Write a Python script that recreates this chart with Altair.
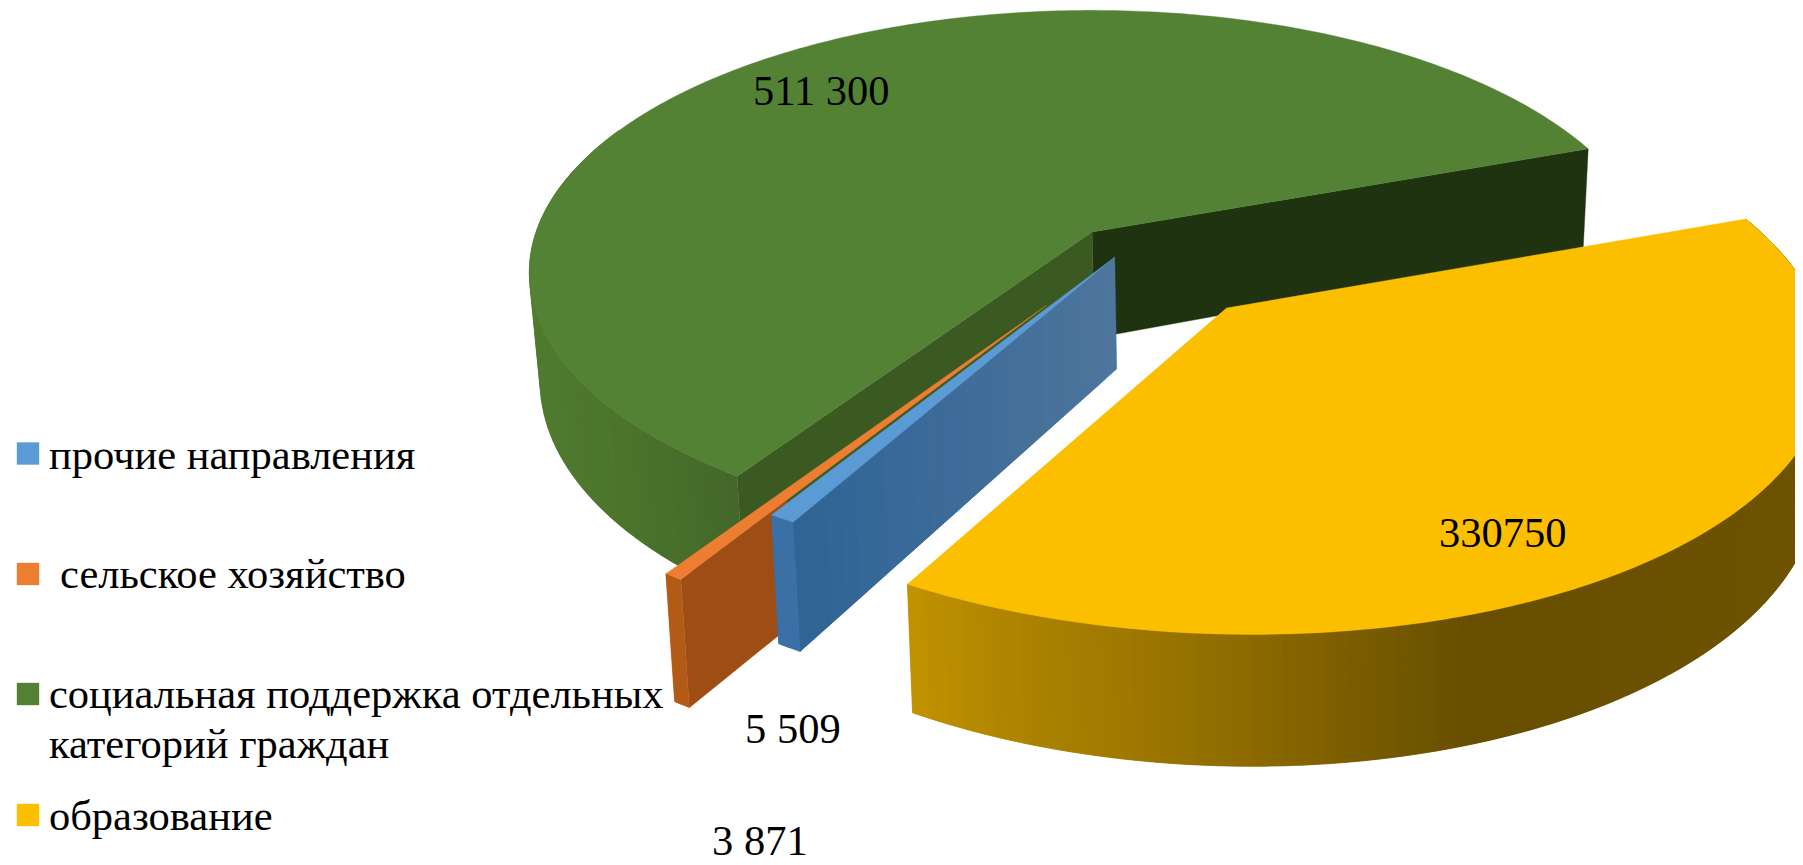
import math
import altair as alt

# ---- values
categories = ["образование", "прочие направления", "сельское хозяйство",
              "социальная поддержка отдельных категорий граждан"]
values = [330750, 5509, 3871, 511300]
value_texts = ["330750", "5 509", "3 871", "511 300"]

legend_order = ["прочие направления", " сельское хозяйство",
                "социальная поддержка отдельных", "образование"]
legend_second_line = "категорий граждан"

top_colors = ["#fbbf00", "#5b9bd5", "#ed7d31", "#548235"]

# ---- styling / projection parameters (page coordinates minus the 8px margin)
OFF = 8
CX, CY = 1091, 232
R, RQ, K = 556, 256, 0.155
DEPTH = 106
START = -20.0
VANISH_X, BOTTOM_SCALE = 1250, 0.985
# displacement (x, y) and stretch (x, y) of each slice in the disc plane
explode = [(0.233, 0.284, 1.015, 0.98), (0.042, 0.097, 1, 1), (-0.077, 0.275, 1, 1), (0.002, 0.0, 1, 1)]
yellow_stops = [(906, "#c29200"), (998, "#b08600"), (1233, "#8f6c00"), (1469, "#684f00"),
                (1645, "#6a5000"), (1803, "#6e5400")]
green_stops = [(528, "#507b2f"), (620, "#4c742c"), (732, "#44682a")]


def hex2(c):
    return [int(c[i:i + 2], 16) for i in (1, 3, 5)]


def mix(a, b, t):
    ca, cb = hex2(a), hex2(b)
    return "#%02x%02x%02x" % tuple(round(x + (y - x) * t) for x, y in zip(ca, cb))


def color_at(stops, x):
    if x <= stops[0][0]:
        return stops[0][1]
    for (x0, c0), (x1, c1) in zip(stops, stops[1:]):
        if x <= x1:
            return mix(c0, c1, (x - x0) / (x1 - x0))
    return stops[-1][1]


def top_pt(U, V):
    s = 1 / (1 - K * V)
    return (CX + R * U * s, CY + RQ * V * s)


def bot_pt(U, V, depth=DEPTH):
    s = 1 / (1 - K * V)
    x, y = top_pt(U, V)
    return (VANISH_X + (x - VANISH_X) * BOTTOM_SCALE, y + depth * s)


def disc(off, ang):
    a = math.radians(ang)
    return (off[0] + off[2] * math.cos(a), off[1] + off[3] * math.sin(a))


features = []


def add(points, fill):
    pts = [[p[0] - OFF, p[1] - OFF] for p in points]
    pts.append(pts[0])
    features.append({"type": "Feature",
                     "geometry": {"type": "Polygon", "coordinates": [pts]},
                     "properties": {"fill": fill}})


def rim(off, a0, a1, color_fn, n, depth=DEPTH):
    """Outer wall, painted as overlapping strips so no seams show."""
    for i in range(n):
        b0 = a0 + (a1 - a0) * i / n
        b1 = a0 + (a1 - a0) * min(i + 2, n) / n
        bm = a0 + (a1 - a0) * (i + 0.5) / n
        p0, p1 = disc(off, b0), disc(off, b1)
        pm = disc(off, bm)
        q = [top_pt(*p0), top_pt(*pm), top_pt(*p1), bot_pt(*p1, depth), bot_pt(*pm, depth), bot_pt(*p0, depth)]
        add(q, color_fn(top_pt(*pm)[0]))


def wall(off, ang, c_apex, c_outer, n=1, depth=DEPTH, t_from=0.0):
    p = disc(off, ang)
    for i in range(n):
        t0 = t_from + (1 - t_from) * i / n
        t1 = t_from + (1 - t_from) * min(i + 2, n) / n
        a = (off[0] + (p[0] - off[0]) * t0, off[1] + (p[1] - off[1]) * t0)
        b = (off[0] + (p[0] - off[0]) * t1, off[1] + (p[1] - off[1]) * t1)
        add([top_pt(*a), top_pt(*b), bot_pt(*b, depth), bot_pt(*a, depth)],
            mix(c_apex, c_outer, (i + 0.5) / n))


def top(off, a0, a1, fill, n=160):
    pts = [top_pt(off[0], off[1])]
    for i in range(n + 1):
        pts.append(top_pt(*disc(off, a0 + (a1 - a0) * i / n)))
    add(pts, fill)


# slice angles follow from the values
total = sum(values)
edges = [START]
for v in values:
    edges.append(edges[-1] + 360 * v / total)
(y0, y1), (b0, b1), (o0, o1), (g0, g1) = [(edges[i], edges[i + 1]) for i in range(4)]
oy, ob, oo, og = explode

# painter's order: green, orange, blue, yellow
wall(og, g1, "#203310", "#203310")
wall(og, g0, "#3a5a22", "#3b5b23")
rim(og, g0, 205, lambda x: color_at(green_stops, x), 60)
top(og, g0, g1, top_colors[3], 260)

wall(oo, o0, "#9e4e14", "#9e4e14", t_from=0.74)
rim(oo, o0, o1, lambda x: "#b25a16", 2)
top(oo, o0, o1, top_colors[2], 3)

wall(ob, b0, "#4f759c", "#2f6496", 24, 110)
rim(ob, b0, b1, lambda x: "#3a70a6", 2, 110)
top(ob, b0, b1, top_colors[1], 3)

rim(oy, y0, y1, lambda x: color_at(yellow_stops, x), 160)
top(oy, y0, y1, top_colors[0], 200)

W, H = 1787, 857

shapes = alt.Chart(alt.InlineData(values={"type": "FeatureCollection", "features": features},
                                  format=alt.DataFormat(property="features"))).mark_geoshape(
    strokeWidth=0.4
).encode(
    fill=alt.Fill("properties.fill:N", scale=None),
    stroke=alt.Stroke("properties.fill:N", scale=None),
).project(type="identity", scale=1, translate=[0, 0])

FONT = "Liberation Serif"
FS = 42.5


def px(v):
    return v - OFF


label_rows = [
    {"t": value_texts[3], "x": px(753), "y": px(105)},
    {"t": value_texts[0], "x": px(1439), "y": px(547)},
    {"t": value_texts[1], "x": px(745), "y": px(743)},
    {"t": value_texts[2], "x": px(712), "y": px(855)},
    {"t": legend_order[0], "x": px(49), "y": px(469)},
    {"t": legend_order[1].strip(), "x": px(60), "y": px(588)},
    {"t": legend_order[2], "x": px(49), "y": px(708)},
    {"t": legend_second_line, "x": px(49), "y": px(758)},
    {"t": legend_order[3], "x": px(49), "y": px(830)},
]
labels = alt.Chart(alt.Data(values=label_rows)).mark_text(
    font=FONT, fontSize=FS, align="left", baseline="alphabetic", color="black"
).encode(
    x=alt.X("x:Q", scale=None, axis=None),
    y=alt.Y("y:Q", scale=None, axis=None),
    text="t:N",
)

swatch_rows = [
    {"x": px(28), "y": px(453.5), "c": top_colors[1]},
    {"x": px(28), "y": px(574), "c": top_colors[2]},
    {"x": px(28), "y": px(694), "c": top_colors[3]},
    {"x": px(28), "y": px(815), "c": top_colors[0]},
]
swatches = alt.Chart(alt.Data(values=swatch_rows)).mark_square(size=500, opacity=1).encode(
    x=alt.X("x:Q", scale=None, axis=None),
    y=alt.Y("y:Q", scale=None, axis=None),
    fill=alt.Fill("c:N", scale=None),
)

chart = alt.layer(shapes, swatches, labels).properties(
    width=W, height=H, padding=0, background="white",
    autosize=alt.AutoSizeParams(type="none"),
).configure_view(stroke=None)

chart.save("out.html", embed_options={"renderer": "svg", "actions": False})
